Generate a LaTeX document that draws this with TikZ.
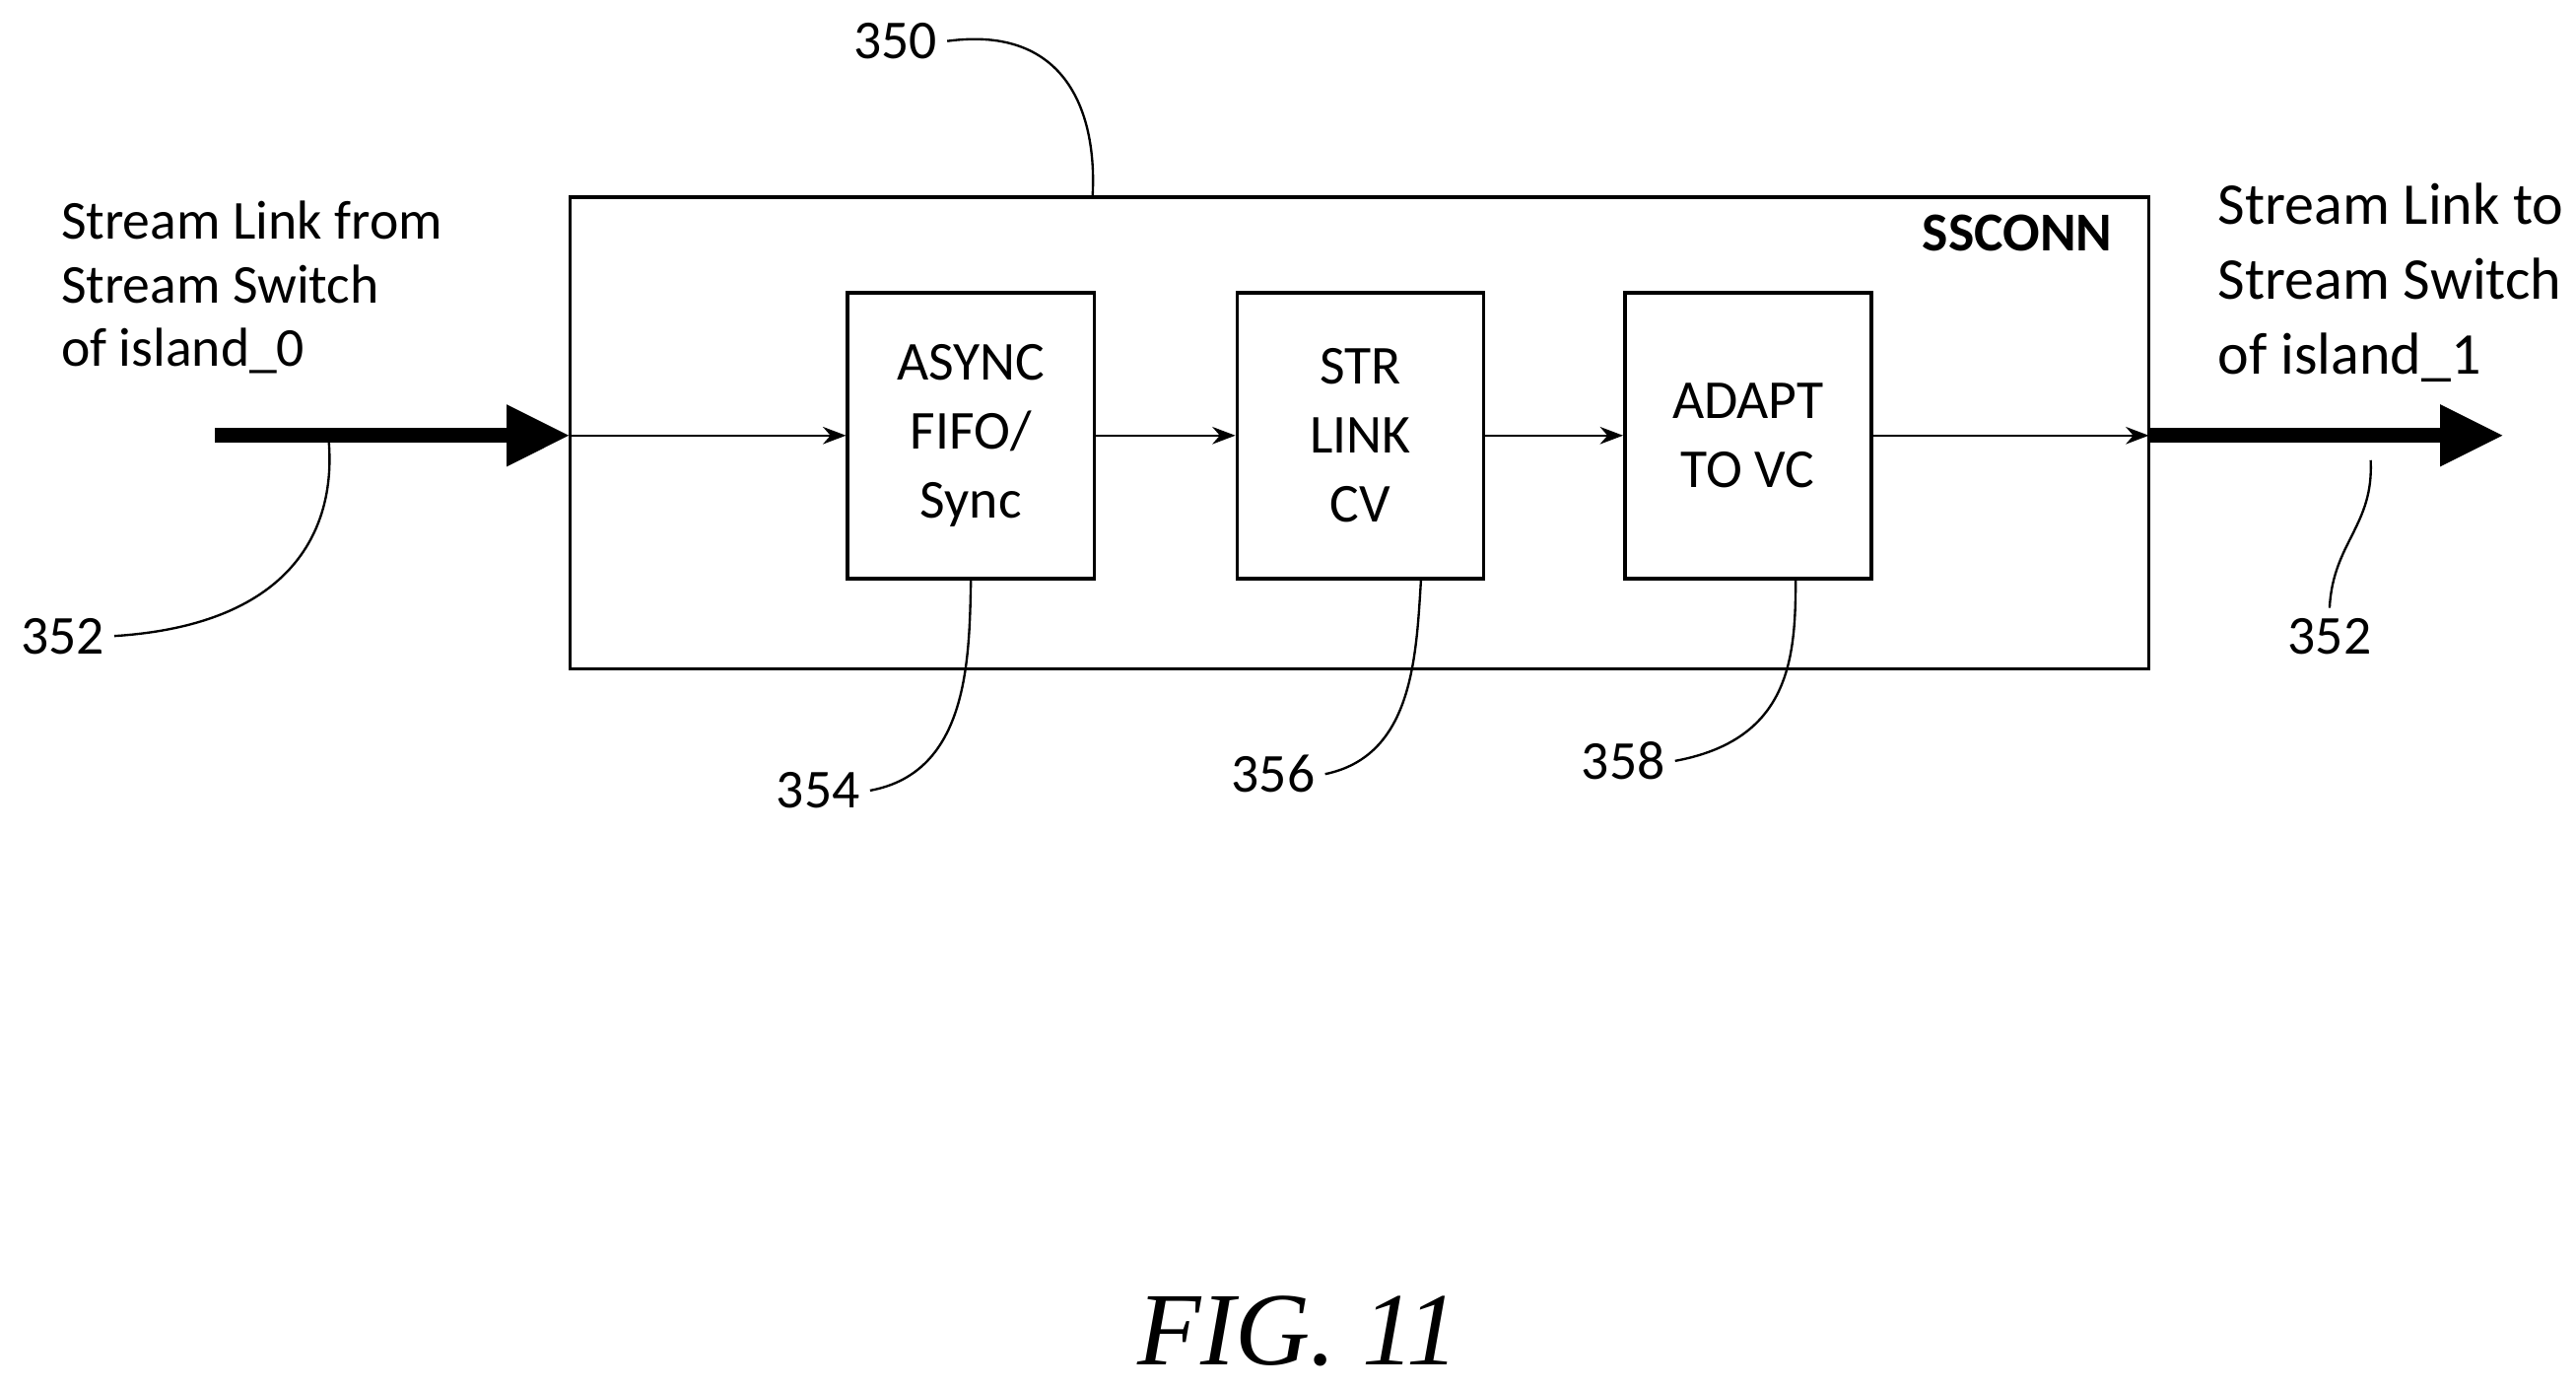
\documentclass[tikz,border=0pt]{standalone}
\usepackage{fontspec}
\setmainfont{Carlito}
\newfontfamily\figfont{Liberation Serif}
\usetikzlibrary{arrows.meta}

\begin{document}
\begin{tikzpicture}[x=0.02cm,y=-0.02cm,
  blk/.style={draw,line width=1.2pt,minimum width=3cm,minimum height=3.48cm,align=center,font=\fontsize{19}{24}\selectfont},
  lbl/.style={font=\fontsize{19}{22}\selectfont},
  lead/.style={line width=0.8pt},
  thin/.style={-{Stealth[length=8pt,width=6pt]},line width=0.8pt},
  thick/.style={-{Triangle[length=22pt,width=20pt]},line width=5pt}]
\useasboundingbox (0,0) rectangle (1568,845);

\draw [line width=1.2pt] (347,120) rectangle (1308,407);
\node [font=\fontsize{19}{22}\selectfont\bfseries] (ssconn) at (1228,142) {SSCONN};

\node [blk] (async) at (591,265) {ASYNC\\FIFO/\\Sync};
\node [blk] (str) at (828,265) {STR\\LINK\\CV};
\node [blk] (adapt) at (1064,265) {ADAPT\\TO VC};

\coordinate (inL) at (347,265);
\coordinate (inR) at (1308,265);
\coordinate (srcL) at (131,265);
\coordinate (dstR) at (1524,265);

\draw [thick] (srcL) -- (inL);
\draw [thin] (inL) -- (async);
\draw [thin] (async) -- (str);
\draw [thin] (str) -- (adapt);
\draw [thin] (adapt) -- (inR);
\draw [thick] (inR) -- (dstR);

\node [lbl,anchor=west,align=left] (srcT) at (31,175) {Stream Link from\\Stream Switch\\of island\_0};
\node [lbl,anchor=west,align=left,font=\fontsize{20.5}{26}\selectfont] (dstT) at (1344,172) {Stream Link to\\Stream Switch\\of island\_1};

\node [lbl] (n350) at (545,25) {350};
\node [lbl] (n352a) at (38,387) {352};
\node [lbl] (n352b) at (1418,387) {352};
\node [lbl] (n354) at (498,481) {354};
\node [lbl] (n356) at (775,471) {356};
\node [lbl] (n358) at (988,463) {358};

\draw [lead] (n350.east) .. controls (650,15) and (668,70) .. (665,120);
\draw [lead] (n352a.east) .. controls (180,380) and (205,320) .. (200,267);
\draw [lead] (n352b.north) .. controls (1420,330) and (1445,320) .. (1443,280);
\draw [lead] (n354.east) .. controls (590,470) and (590,400) .. (591,352);
\draw [lead] (n356.east) .. controls (860,460) and (862,400) .. (865,352);
\draw [lead] (n358.east) .. controls (1090,450) and (1093,400) .. (1093,352);

\node [font=\figfont\itshape\fontsize{36}{40}\selectfont] (fig) at (790,810) {FIG. 11};
\end{tikzpicture}
\end{document}
